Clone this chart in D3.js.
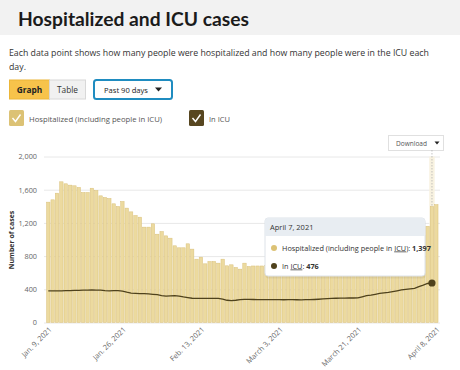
<!DOCTYPE html>
<html>
<head>
<meta charset="utf-8">
<script src="https://cdn.jsdelivr.net/npm/d3@7"></script>
<style>
  html, body { margin: 0; padding: 0; background: #fff; }
  svg { display: block; font-family: "Open Sans", sans-serif; }
</style>
</head>
<body>
<svg id="chart" width="460" height="370"></svg>
<script>
// Daily hospitalized counts, Jan. 9 - April 8, 2021 (90 days)
const hospitalized = [
  1450, 1478, 1558, 1695, 1671, 1655, 1647, 1627, 1566, 1566,
  1618, 1590, 1526, 1506, 1494, 1430, 1398, 1458, 1378, 1333,
  1289, 1269, 1149, 1149, 1189, 1064, 1096, 1044, 1016, 924,
  900, 900, 948, 884, 763, 787, 707, 735, 735, 715,
  763, 683, 695, 663, 643, 715, 675, 681, 681, 681,
  690, 700, 705, 690, 710, 720, 715, 700, 730, 740,
  735, 745, 750, 760, 755, 770, 780, 790, 785, 800,
  810, 820, 830, 835, 850, 860, 870, 880, 900, 910,
  930, 950, 960, 980, 1000, 1020, 1050, 1160, 1397, 1420
];
// Daily ICU counts, Jan. 9 - April 7, 2021
const icu = [
  380, 381, 382, 382, 383, 384, 386, 388, 390, 391,
  392, 391, 390, 384, 380, 383, 385, 378, 365, 355,
  352, 349, 347, 345, 340, 335, 325, 318, 320, 323,
  318, 308, 300, 292, 290, 291, 291, 290, 291, 290,
  282, 268, 263, 268, 275, 279, 278, 277, 276, 275,
  275, 276, 275, 275, 274, 275, 276, 274, 273, 275,
  275, 277, 280, 284, 288, 291, 292, 293, 294, 295,
  295, 296, 310, 323, 330, 340, 350, 356, 362, 372,
  382, 392, 398, 405, 412, 432, 450, 470, 476
];
const yTicks = [0, 400, 800, 1200, 1600, 2000];
const xTickIndex = [0, 17, 35, 53, 71, 89];
const xTickLabels = ["Jan. 9, 2021", "Jan. 26, 2021", "Feb. 13, 2021", "March 3, 2021", "March 21, 2021", "April 8, 2021"];
const hoverIndex = 88;
const hoverDate = "April 7, 2021";

const svg = d3.select("#chart");
const fmt = d3.format(",");

// shrink/grow a text's font size so it spans the wanted width
function fit(sel, width) {
  const node = sel.node();
  const size = parseFloat(sel.attr("font-size"));
  const w = node.getComputedTextLength();
  if (w > 0) sel.attr("font-size", (size * width / w).toFixed(2));
  return sel;
}

// Header band + title
svg.append("rect").attr("x", 0).attr("y", 0).attr("width", 460).attr("height", 35).attr("fill", "#f2f2f2");
fit(svg.append("text").attr("x", 18).attr("y", 26)
  .attr("font-family", "Lato, sans-serif").attr("font-weight", 700).attr("font-size", 21.5)
  .attr("fill", "#1b1b1b").text("Hospitalized and ICU cases"), 231);

// Description
const desc = svg.append("g").attr("fill", "#333");
const d1 = fit(desc.append("text").attr("x", 9).attr("y", 56).attr("font-size", 10)
  .text("Each data point shows how many people were hospitalized and how many people were in the ICU each"), 420);
desc.append("text").attr("x", 9).attr("y", 69.5).attr("font-size", d1.attr("font-size")).text("day.");

// Graph / Table toggle
svg.append("rect").attr("x", 9.5).attr("y", 80).attr("width", 40).attr("height", 19).attr("fill", "#f7c34b").attr("stroke", "#ecb638");
svg.append("rect").attr("x", 49.5).attr("y", 80).attr("width", 36).attr("height", 19).attr("fill", "#f1f1f1").attr("stroke", "#d8d8d8");
svg.append("text").attr("x", 29.5).attr("y", 93).attr("text-anchor", "middle").attr("font-size", 8.3).attr("font-weight", 700).attr("fill", "#222").text("Graph");
svg.append("text").attr("x", 67.5).attr("y", 93).attr("text-anchor", "middle").attr("font-size", 8.3).attr("fill", "#333").text("Table");

// Period dropdown
svg.append("rect").attr("x", 94).attr("y", 80).attr("width", 78).attr("height", 19).attr("rx", 2.5)
  .attr("fill", "#fff").attr("stroke", "#1f8cc0").attr("stroke-width", 2);
fit(svg.append("text").attr("x", 104).attr("y", 93).attr("font-size", 8.3).attr("fill", "#222").text("Past 90 days"), 44);
svg.append("path").attr("d", "M155,87.5 h7 l-3.5,4 z").attr("fill", "#222");

// Legend
const legend = [
  { label: "Hospitalized (including people in ICU)", color: "#dcc275", x: 9, w: 133 },
  { label: "In ICU", color: "#574620", x: 189, w: 21 }
];
legend.forEach(d => {
  svg.append("rect").attr("x", d.x).attr("y", 110).attr("width", 15).attr("height", 16).attr("rx", 1.5).attr("fill", d.color);
  svg.append("path").attr("d", `M${d.x + 3.5},${118} l3,3.5 l5,-7`).attr("fill", "none").attr("stroke", "#fff").attr("stroke-width", 1.4);
  fit(svg.append("text").attr("x", d.x + 20).attr("y", 122).attr("font-size", 9).attr("fill", "#555").text(d.label), d.w);
});

// Download button
svg.append("rect").attr("x", 388.5).attr("y", 135.5).attr("width", 55).attr("height", 15).attr("fill", "#fff").attr("stroke", "#e0e0e0");
fit(svg.append("text").attr("x", 396).attr("y", 146).attr("font-size", 7.5).attr("fill", "#555").text("Download"), 31);
svg.append("path").attr("d", "M434.5,141.5 h5 l-2.5,3 z").attr("fill", "#222");

// Scales
const x = d3.scaleBand().domain(d3.range(hospitalized.length)).range([46.1, 438.5]).paddingInner(0.22).paddingOuter(0.11);
const y = d3.scaleLinear().domain([0, 2000]).range([322.5, 156.5]);
const xc = i => x(i) + x.bandwidth() / 2;

// Grid + y axis
const yAxis = d3.axisLeft(y).tickValues(yTicks).tickFormat(fmt).tickSize(-(440 - 44)).tickPadding(7);
const gy = svg.append("g").attr("transform", "translate(44,0)").call(yAxis);
gy.select(".domain").remove();
gy.selectAll(".tick line").attr("stroke", "#e8e8e8");
gy.selectAll(".tick text").attr("font-size", 7.3).attr("fill", "#666").attr("font-family", "Open Sans, sans-serif");

svg.append("text").attr("transform", "translate(14,240) rotate(-90)").attr("text-anchor", "middle")
  .attr("font-size", 7).attr("font-weight", 700).attr("fill", "#333").text("Number of cases");

// Hover band
svg.append("rect").attr("x", x(hoverIndex) - 1).attr("y", 156.5).attr("width", x.bandwidth() + 2).attr("height", 166)
  .attr("fill", "#f8f2e0");

// Bars
svg.append("g").selectAll("rect").data(hospitalized).join("rect")
  .attr("x", (d, i) => x(i)).attr("y", d => y(d))
  .attr("width", x.bandwidth()).attr("height", d => y(0) - y(d))
  .attr("fill", "#ecda9f").attr("stroke", "#d9c07a").attr("stroke-width", 0.5);

// Hover guide line
svg.append("line").attr("x1", xc(hoverIndex)).attr("x2", xc(hoverIndex)).attr("y1", 150).attr("y2", y(hospitalized[hoverIndex]))
  .attr("stroke", "#aaa").attr("stroke-width", 0.7).attr("stroke-dasharray", "1.5,1.5");

// ICU line
const line = d3.line().x((d, i) => xc(i)).y(d => y(d));
svg.append("path").datum(icu).attr("d", line).attr("fill", "none").attr("stroke", "#4f421c").attr("stroke-width", 1.3);
svg.append("circle").attr("cx", xc(hoverIndex)).attr("cy", y(icu[hoverIndex])).attr("r", 3.6).attr("fill", "#4f421c");

// X axis labels
const gx = svg.append("g").attr("font-size", 7.3).attr("fill", "#666");
xTickIndex.forEach((idx, k) => {
  gx.append("text").attr("transform", `translate(${xc(idx) + 4},${330}) rotate(-45)`)
    .attr("text-anchor", "end").attr("fill", "#666").text(xTickLabels[k]);
});

// Tooltip
const tip = svg.append("g").attr("transform", "translate(265,218)");
tip.append("rect").attr("x", 0.5).attr("y", 1.5).attr("width", 160).attr("height", 59).attr("rx", 3).attr("fill", "#000").attr("opacity", 0.06);
tip.append("rect").attr("x", 0).attr("y", 0).attr("width", 160).attr("height", 58).attr("rx", 3).attr("fill", "#fff").attr("stroke", "#dde2e8");
tip.append("path").attr("d", "M0,18 V3 a3,3 0 0 1 3,-3 H157 a3,3 0 0 1 3,3 V18 Z").attr("fill", "#e8edf2");
tip.append("text").attr("x", 5).attr("y", 12).attr("font-size", 7.5).attr("fill", "#333").text(hoverDate);
tip.append("circle").attr("cx", 9).attr("cy", 30).attr("r", 3).attr("fill", "#dcc275");
tip.append("circle").attr("cx", 9).attr("cy", 48).attr("r", 3).attr("fill", "#4f421c");
const t1 = tip.append("text").attr("x", 17).attr("y", 32.5).attr("font-size", 7.3).attr("fill", "#333");
t1.append("tspan").text("Hospitalized (including people in ");
t1.append("tspan").attr("text-decoration", "underline").text("ICU");
t1.append("tspan").text("):  ");
t1.append("tspan").attr("font-weight", 700).text(fmt(hospitalized[hoverIndex]));
const t2 = tip.append("text").attr("x", 17).attr("y", 50.5).attr("font-size", 7.3).attr("fill", "#333");
t2.append("tspan").text("In ");
t2.append("tspan").attr("text-decoration", "underline").text("ICU");
t2.append("tspan").text(":  ");
t2.append("tspan").attr("font-weight", 700).text(fmt(icu[hoverIndex]));
</script>
</body>
</html>
